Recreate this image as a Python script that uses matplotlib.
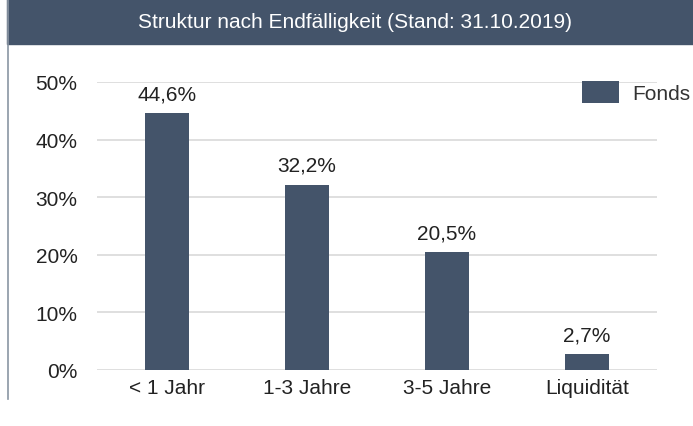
import matplotlib.pyplot as plt
from matplotlib.patches import Rectangle
from matplotlib.lines import Line2D

plt.rcParams['font.family'] = ['Liberation Sans', 'DejaVu Sans']

categories = ["< 1 Jahr", "1-3 Jahre", "3-5 Jahre", "Liquidität"]
values = [44.6, 32.2, 20.5, 2.7]
labels = ["44,6%", "32,2%", "20,5%", "2,7%"]
yticks = [0, 10, 20, 30, 40, 50]

bar_color = "#44546a"
W, H = 693, 427

fig = plt.figure(figsize=(W / 100, H / 100), dpi=100)

# title bar + frame
fig.patches.append(Rectangle((7 / W, 1 - 45 / H), 1 - 7 / W, 45 / H,
                             transform=fig.transFigure, color=bar_color, zorder=0))
fig.lines.append(Line2D([7.5 / W, 7.5 / W], [1 - 400 / H, 1], transform=fig.transFigure,
                        color="#8a96a3", lw=1.2))
fig.text(355 / W, 1 - 23 / H, "Struktur nach Endfälligkeit (Stand: 31.10.2019)",
         color="white", fontsize=15, ha="center", va="center")

ax = fig.add_axes([97 / W, 56 / H, 560 / W, 288 / H])
x = range(len(categories))
ax.bar(x, values, width=0.314, color=bar_color, zorder=2, label="Fonds")
for xi, v, lab in zip(x, values, labels):
    ax.text(xi, v + 2.4, lab, ha="center", va="baseline", fontsize=15, color="#222222")

ax.set_xlim(-0.5, 3.5)
ax.set_ylim(0, 50)
ax.set_yticks(yticks)
ax.set_yticklabels([f"{t}%" for t in yticks])
ax.set_xticks(list(x))
ax.set_xticklabels(categories)
ax.tick_params(axis="both", length=0, labelsize=15, colors="#222222")
ax.tick_params(axis="y", pad=14)
ax.tick_params(axis="x", pad=6)
ax.grid(axis="y", color="#d9d9d9", lw=1.2, zorder=0)
for s in ax.spines.values():
    s.set_visible(False)

ax.legend(loc="upper right", bbox_to_anchor=(1.059, 1.005), frameon=False, fontsize=15,
          handlelength=1.78, handleheight=1.3, handletextpad=0.63,
          borderpad=0, borderaxespad=0, labelcolor="#333333")

fig.savefig("out.png", dpi=100)
